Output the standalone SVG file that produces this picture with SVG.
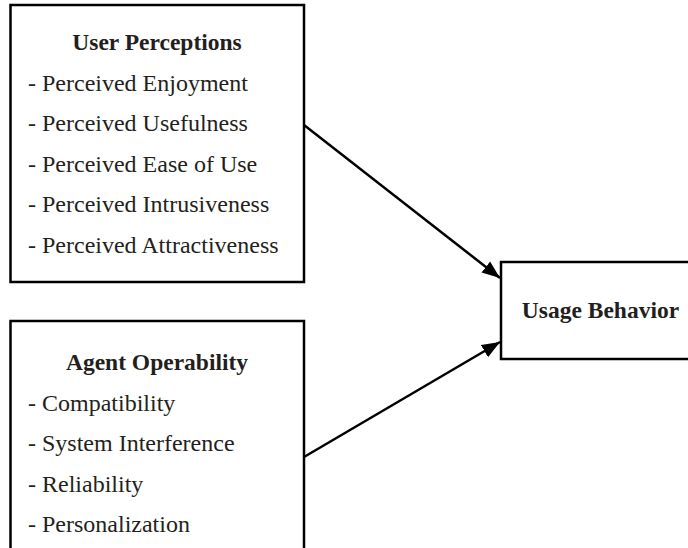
<svg xmlns="http://www.w3.org/2000/svg" width="688" height="548" viewBox="0 0 688 548">
  <style>
    .box { fill: #ffffff; stroke: #000000; stroke-width: 2.5; }
    .title { font-family: "Liberation Serif", "Times New Roman", serif; font-size: 23.5px; font-weight: bold; fill: #231f20; text-anchor: middle; }
    .item { font-family: "Liberation Serif", "Times New Roman", serif; font-size: 24px; fill: #231f20; }
    .conn { stroke: #000000; stroke-width: 2.5; fill: none; }
  </style>
  <defs>
    <marker id="arrow" markerUnits="userSpaceOnUse" markerWidth="20" markerHeight="16" viewBox="0 0 20 16" refX="18" refY="8" orient="auto">
      <path d="M0,1 L18,8 L0,15 Z" fill="#000000"/>
    </marker>
  </defs>
  <rect width="688" height="548" fill="#ffffff"/>
  <g id="user-perceptions">
    <rect class="box" x="10.5" y="5" width="293.5" height="277"/>
    <text class="title" x="157" y="50">User Perceptions</text>
    <text class="item" x="28" y="91">- Perceived Enjoyment</text>
    <text class="item" x="28" y="131">- Perceived Usefulness</text>
    <text class="item" x="28" y="171.5">- Perceived Ease of Use</text>
    <text class="item" x="28" y="212">- Perceived Intrusiveness</text>
    <text class="item" x="28" y="252.5">- Perceived Attractiveness</text>
  </g>
  <g id="agent-operability">
    <rect class="box" x="10.5" y="321" width="293.5" height="250"/>
    <text class="title" x="157" y="370">Agent Operability</text>
    <text class="item" x="28" y="410.5">- Compatibility</text>
    <text class="item" x="28" y="451">- System Interference</text>
    <text class="item" x="28" y="491.5">- Reliability</text>
    <text class="item" x="28" y="532">- Personalization</text>
  </g>
  <g id="usage-behavior">
    <rect class="box" x="501" y="262" width="220" height="97"/>
    <text class="title" x="600.5" y="318">Usage Behavior</text>
  </g>
  <g id="connectors">
    <line class="conn" x1="304" y1="125" x2="500" y2="278" marker-end="url(#arrow)"/>
    <line class="conn" x1="304" y1="457" x2="500" y2="342" marker-end="url(#arrow)"/>
  </g>
</svg>
